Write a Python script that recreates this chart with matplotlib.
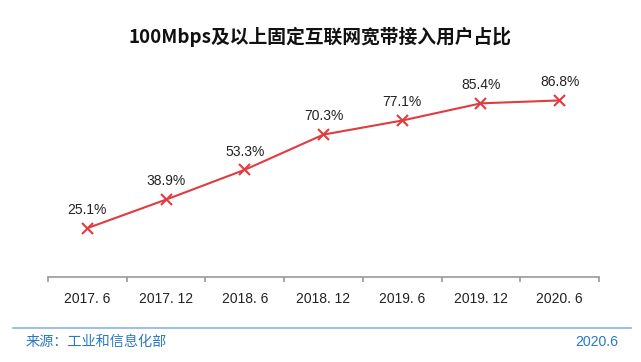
import matplotlib
matplotlib.use("Agg")
import matplotlib.pyplot as plt
import matplotlib.patheffects as pe

categories = ["2017. 6", "2017. 12", "2018. 6", "2018. 12", "2019. 6", "2019. 12", "2020. 6"]
values = [25.1, 38.9, 53.3, 70.3, 77.1, 85.4, 86.8]
title = "100Mbps及以上固定互联网宽带接入用户占比"
source = "来源：工业和信息化部"
date_text = "2020.6"

plt.rcParams['font.family'] = ['Liberation Sans', 'Noto Sans CJK SC', 'DejaVu Sans']

W, H = 641, 362
fig = plt.figure(figsize=(W/100, H/100), dpi=100)
ax = fig.add_axes([48/W, 1-277/H, (599-48)/W, (277-70)/H])

x = list(range(len(categories)))
ax.plot(x, values, color='#e03c3f', lw=1.5, zorder=3)
ax.plot(x, values, ls='none', marker='x', ms=8, mew=1.5, color='#e03c3f', zorder=4,
        path_effects=[pe.SimplePatchShadow(offset=(1, -2), shadow_rgbFace='#bbbbbb', alpha=0.5), pe.Normal()])
for xi, v in zip(x, values):
    ax.annotate(f"{v}%", (xi, v), xytext=(0, 8), textcoords='offset points',
                ha='center', va='bottom', fontsize=10, color='#222222')

ax.set_xlim(-0.5, len(categories)-0.5)
ax.set_ylim(1.5, 101.5)
for s in ['top', 'right', 'left']:
    ax.spines[s].set_visible(False)
ax.spines['bottom'].set_color('#999999')
ax.spines['bottom'].set_linewidth(1.2)
ax.set_yticks([])
ax.set_xticks([i - 0.5 for i in range(len(categories)+1)], minor=False)
ax.set_xticklabels([])
ax.tick_params(axis='x', which='major', length=3.5, color='#999999', width=1.2)
ax.set_xticks(x, minor=True)
ax.set_xticklabels(categories, minor=True, fontsize=10, color='#222222')
ax.tick_params(axis='x', which='minor', length=0, pad=10.5)

fig.text(0.5, 1-37/H, title, ha='center', va='center', fontsize=13.5, fontweight='bold',
         family=['Noto Sans CJK SC', 'DejaVu Sans'], color='#111111')

fig.add_artist(plt.Line2D([13/W, 631/W], [1-328/H, 1-328/H], color='#8ab4e8', lw=1.2))
fig.text(26/W, 1-342/H, source, ha='left', va='center', fontsize=10.2,
         family=['Noto Sans CJK SC', 'DejaVu Sans'], color='#2a78c8')
fig.text(618/W, 1-342/H, date_text, ha='right', va='center', fontsize=10.2, color='#2a78c8')

fig.savefig("out.png", dpi=100)
